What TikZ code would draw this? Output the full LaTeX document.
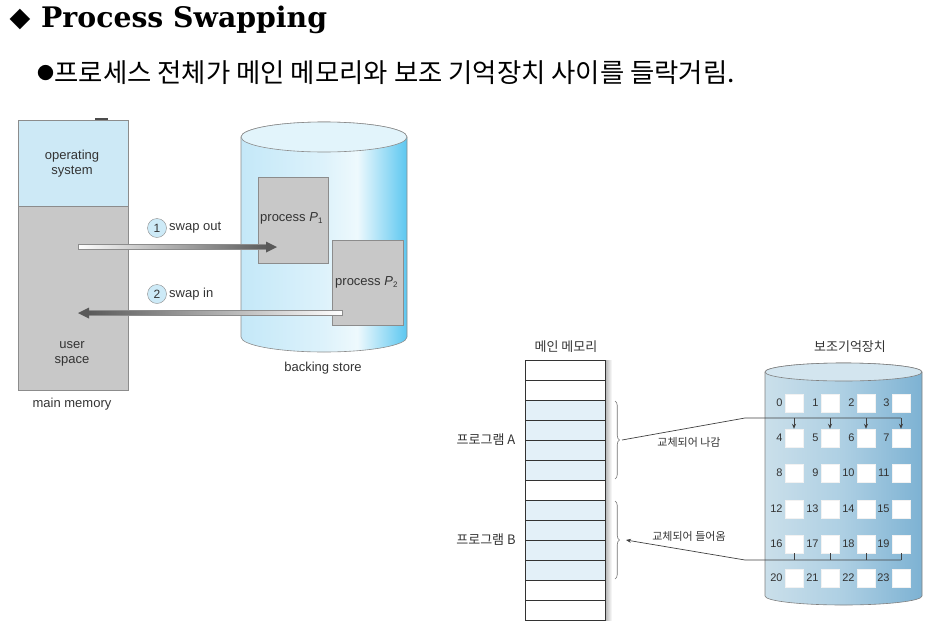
\documentclass[tikz,border=0pt]{standalone}
\usepackage{fontspec}
\setmainfont{Liberation Sans}
\newfontfamily\kr{Noto Sans CJK KR}
\newfontfamily\titlefont{DejaVu Serif}
\newfontfamily\symfont{DejaVu Sans}
\usetikzlibrary{arrows.meta,decorations.pathreplacing}
\definecolor{osblue}{HTML}{CDE9F6}
\definecolor{usergray}{HTML}{C8C8C8}
\definecolor{edgegray}{HTML}{8C8C8C}
\definecolor{txt}{HTML}{333333}
\definecolor{cA1}{HTML}{C4E8F8}
\definecolor{cA2}{HTML}{DDF2FB}
\definecolor{cA3}{HTML}{EEF9FD}
\definecolor{cA4}{HTML}{5CC7F0}
\definecolor{cAtop}{HTML}{E2F4FB}
\definecolor{cB1}{HTML}{CADFEA}
\definecolor{cB2}{HTML}{ADCFE3}
\definecolor{cB3}{HTML}{7DB2D3}
\definecolor{cBtop}{HTML}{D3E5EF}
\definecolor{memblue}{HTML}{E3F0F8}
\definecolor{circblue}{HTML}{CDEAF7}
\pgfdeclarehorizontalshading{cylA}{100bp}{color(0bp)=(cA1); color(25bp)=(cA1); color(50bp)=(cA2); color(60bp)=(cA3); color(75bp)=(cA4); color(100bp)=(cA4)}
\pgfdeclarehorizontalshading{cylB}{100bp}{color(0bp)=(cB1); color(25bp)=(cB1); color(50bp)=(cB2); color(75bp)=(cB3); color(100bp)=(cB3)}
\tikzset{
  lbl/.style={font=\fontsize{13}{15}\selectfont, text=txt, align=center, inner sep=0pt},
  krlbl/.style={font=\kr\fontsize{13}{15}\selectfont, text=txt, inner sep=0pt},
  krsmall/.style={font=\kr\fontsize{11}{13}\selectfont, text=txt, inner sep=0pt},
  procbox/.style={draw=edgegray, fill=usergray, line width=0.6pt},
  numcirc/.style={circle, draw=edgegray, fill=circblue, minimum size=19pt, inner sep=0pt, font=\fontsize{12}{14}\selectfont, text=txt},
  slot/.style={fill=white, draw=white!90!gray, minimum size=18pt, inner sep=0pt},
  slotnum/.style={font=\fontsize{11}{13}\selectfont, text=txt, inner sep=0pt, anchor=east},
  memrow/.style={draw=black!80, line width=0.9pt},
  conn/.style={draw=black!75, line width=0.7pt},
  tip/.style={-{Stealth[length=5pt,width=4pt]}},
}
\begin{document}
\begin{tikzpicture}[x=1pt,y=-1pt]
\useasboundingbox (0,0) rectangle (928,624);
% title
\node[font=\symfont\fontsize{27}{28}\selectfont, inner sep=0pt] (dia) at (20,19) {◆};
\node[font=\titlefont\bfseries\fontsize{28.3}{30}\selectfont, anchor=west, inner sep=0pt] (title) at (41,20) {Process Swapping};
\node[font=\kr\fontsize{17}{20}\selectfont, anchor=west, inner sep=0pt] (bul) at (37,73) {●};
\node[font=\kr\fontsize{26.4}{30}\selectfont, anchor=west, inner sep=0pt] (sub) at (bul.east) {프로세스 전체가 메인 메모리와 보조 기억장치 사이를 들락거림.};

% ---------- left diagram ----------
\fill[black!70] (95,118) rectangle (108,120.5);
\filldraw[fill=osblue, draw=edgegray, line width=0.6pt] (18,120) rectangle (128,206);
\filldraw[fill=usergray, draw=edgegray, line width=0.6pt] (18,206) rectangle (128,390);
\node[lbl] (os) at (72,164) {operating\\system};
\node[lbl] (us) at (72,354) {user\\space};
\node[lbl] (mm) at (72,404) {main memory};

% backing store cylinder
\shadedraw[shading=cylA, draw=edgegray, line width=0.6pt] (241,137) -- (241,337) arc[start angle=180, end angle=360, x radius=83pt, y radius=15pt] -- (407,137) arc[start angle=0, end angle=180, x radius=83pt, y radius=15pt] -- cycle;
\filldraw[fill=cAtop, draw=edgegray, line width=0.6pt] (324,137) ellipse [x radius=83pt, y radius=15pt];
\node[lbl] (bs) at (323,368) {backing store};

\draw[procbox] (258,177) rectangle (328,263);
\node[lbl, anchor=west] (p1) at (260,218) {process \textit{P}\raisebox{-0.35ex}{\fontsize{8}{9}\selectfont 1}};
\draw[procbox] (332,240) rectangle (403,325);
\node[lbl, anchor=west] (p2) at (335,282) {process \textit{P}\raisebox{-0.35ex}{\fontsize{8}{9}\selectfont 2}};

% swap out arrow
\coordinate (o1s) at (78,247);
\coordinate (o1e) at (277,247);
\shadedraw[left color=white, right color=black!65, draw=black!45, line width=0.5pt] (78,244.4) rectangle (268,249.6);
\fill[black!65] (o1e) -- ++(-11,-5.5) -- ++(0,11) -- cycle;
\node[numcirc] (c1) at (157,228) {1};
\node[lbl, anchor=west] (so) at (169,228) {swap out};

% swap in arrow
\coordinate (o2s) at (342,313);
\coordinate (o2e) at (78,313);
\shadedraw[left color=black!65, right color=white, draw=black!45, line width=0.5pt] (87,310.4) rectangle (342,315.6);
\fill[black!65] (o2e) -- ++(11,-5.5) -- ++(0,11) -- cycle;
\node[numcirc] (c2) at (157,294) {2};
\node[lbl, anchor=west] (si) at (169,294) {swap in};

% ---------- right diagram ----------
\node[krlbl] (mmk) at (566,347) {메인 메모리};
\shade[left color=black!30, right color=white] (605,360) rectangle (612,620);
\fill[memblue] (525,400) rectangle (605,480);
\fill[memblue] (525,500) rectangle (605,580);
\foreach \i in {0,...,12} {
  \draw[memrow] (525,360+20*\i) rectangle (605,380+20*\i);
}
\node[krlbl] (pa) at (486,440) {프로그램 A};
\node[krlbl] (pb) at (486,540) {프로그램 B};

\draw[black!55, line width=0.6pt, decorate, decoration={brace, amplitude=4.5pt}] (615,401) -- (615,479);
\draw[black!55, line width=0.6pt, decorate, decoration={brace, amplitude=4.5pt}] (615,501) -- (615,579);
\coordinate (ta) at (622,440);
\coordinate (tb) at (626,540);

% secondary storage cylinder
\node[krlbl] (sk) at (850,347) {보조기억장치};
\shadedraw[shading=cylB, draw=black!50, line width=0.6pt] (765,372) -- (765,596) arc[start angle=180, end angle=360, x radius=78.5pt, y radius=9pt] -- (922,372) arc[start angle=0, end angle=180, x radius=78.5pt, y radius=9pt] -- cycle;
\filldraw[fill=cBtop, draw=black!50, line width=0.6pt] (843.5,372) ellipse [x radius=78.5pt, y radius=9pt];

\foreach \r/\yy in {0/403,1/438,2/473,3/509,4/544,5/578} {
  \foreach \c/\xx in {0/794,1/830,2/866,3/901} {
    \pgfmathtruncatemacro{\n}{4*\r+\c}
    \node[slot] (b\n) at (\xx,\yy) {};
    \node[slotnum] (n\n) at ([xshift=-2pt]b\n.west) {\n};
  }
}

% swap out connector
\coordinate (ka) at (745,418);
\coordinate (ea) at (901,418);
\draw[conn] (ta) -- (ka) -- (ea);
\foreach \k in {4,5,6,7} {
  \draw[conn, tip] (b\k.north |- ka) -- (b\k.north);
}
\node[krsmall] (la) at (689,442) {교체되어 나감};

% swap in connector
\coordinate (kb) at (745,560);
\coordinate (eb) at (901,560);
\foreach \k in {16,17,18,19} {
  \draw[conn] (b\k.south) -- (b\k.south |- kb);
}
\draw[conn, tip] (eb) -- (kb) -- (tb);
\node[krsmall] (lb) at (689,536) {교체되어 들어옴};
\end{tikzpicture}
\end{document}
